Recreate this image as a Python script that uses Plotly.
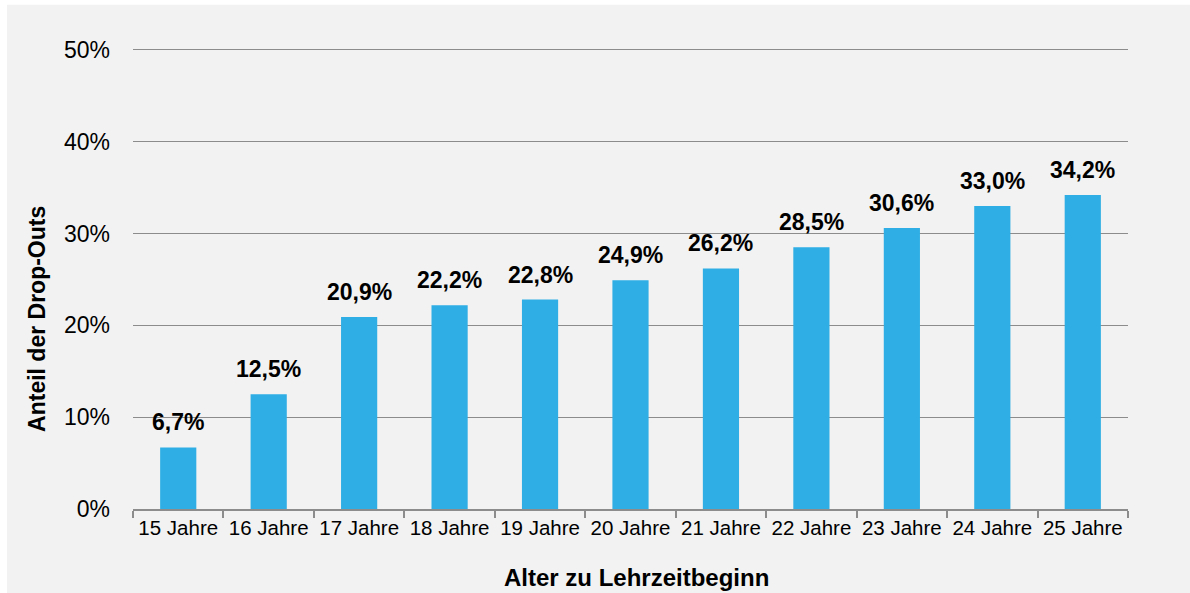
import plotly.graph_objects as go

# Dropout share by age at apprenticeship start
categories = ["15 Jahre", "16 Jahre", "17 Jahre", "18 Jahre", "19 Jahre", "20 Jahre",
              "21 Jahre", "22 Jahre", "23 Jahre", "24 Jahre", "25 Jahre"]
dropout_share = [6.7, 12.5, 20.9, 22.2, 22.8, 24.9, 26.2, 28.5, 30.6, 33.0, 34.2]
y_ticks = [0, 10, 20, 30, 40, 50]
y_tick_labels = ["0%", "10%", "20%", "30%", "40%", "50%"]

FONT = "Liberation Sans, Arial, sans-serif"
BAR = "#2eaee4"
GRID = "#8c8c8c"
BG = "#f2f2f2"

W, H = 1190, 593
Y_MAX = 50.2
L, R, B = 133, 62, 84
ph = (H - B - 50) * Y_MAX / 50
T = H - B - ph
pw = W - L - R


def px_x(p):
    return (p - L) / pw


def px_y(p):
    return (H - B - p) / ph


labels = ["<b>" + f"{v:.1f}".replace(".", ",") + "%</b>" for v in dropout_share]

fig = go.Figure(go.Bar(
    x=categories,
    y=dropout_share,
    marker=dict(color=BAR, line=dict(width=0)),
    width=0.4,
    hovertemplate="%{x}: %{y:.1f}%<extra></extra>",
))

# value labels sitting above each bar
value_annotations = [
    dict(x=c, y=v, xref="x", yref="y", text=t, showarrow=False,
         xanchor="center", yanchor="bottom", yshift=10,
         font=dict(family=FONT, size=23, color="#000000"))
    for c, v, t in zip(categories, dropout_share, labels)
]

fig.update_layout(
    width=W, height=H,
    margin=dict(l=L, r=R, t=T, b=B),
    paper_bgcolor="#ffffff",
    plot_bgcolor=BG,
    showlegend=False,
    font=dict(family=FONT, color="#000000"),
    shapes=[dict(
        type="rect", xref="paper", yref="paper", layer="below",
        x0=px_x(7), x1=px_x(W + 2), y0=px_y(H + 2), y1=px_y(5),
        fillcolor=BG, line=dict(width=0),
    )],
    annotations=value_annotations + [
        dict(text="<b>Alter zu Lehrzeitbeginn</b>", xref="paper", yref="paper",
             x=px_x(636), y=px_y(577), showarrow=False,
             font=dict(family=FONT, size=24, color="#000000"),
             xanchor="center", yanchor="middle"),
        dict(text="<b>Anteil der Drop-Outs</b>", xref="paper", yref="paper",
             x=px_x(37), y=px_y(319), showarrow=False, textangle=-90,
             font=dict(family=FONT, size=23, color="#000000"),
             xanchor="center", yanchor="middle"),
    ],
)

fig.update_xaxes(
    type="category",
    showgrid=False,
    showline=True, linecolor=GRID, linewidth=1.5,
    ticks="outside", tickson="boundaries", ticklen=7, tickcolor=GRID, tickwidth=1.5,
    tickangle=0,
    tickfont=dict(family=FONT, size=20.5, color="#000000"),
    fixedrange=True,
)
fig.update_yaxes(
    range=[0, Y_MAX],
    tickvals=y_ticks, ticktext=y_tick_labels,
    showgrid=True, gridcolor=GRID, gridwidth=1,
    zeroline=False, showline=False,
    ticks="", ticklabelstandoff=22,
    tickfont=dict(family=FONT, size=23, color="#000000"),
    fixedrange=True,
)

fig.write_html("out.html")
